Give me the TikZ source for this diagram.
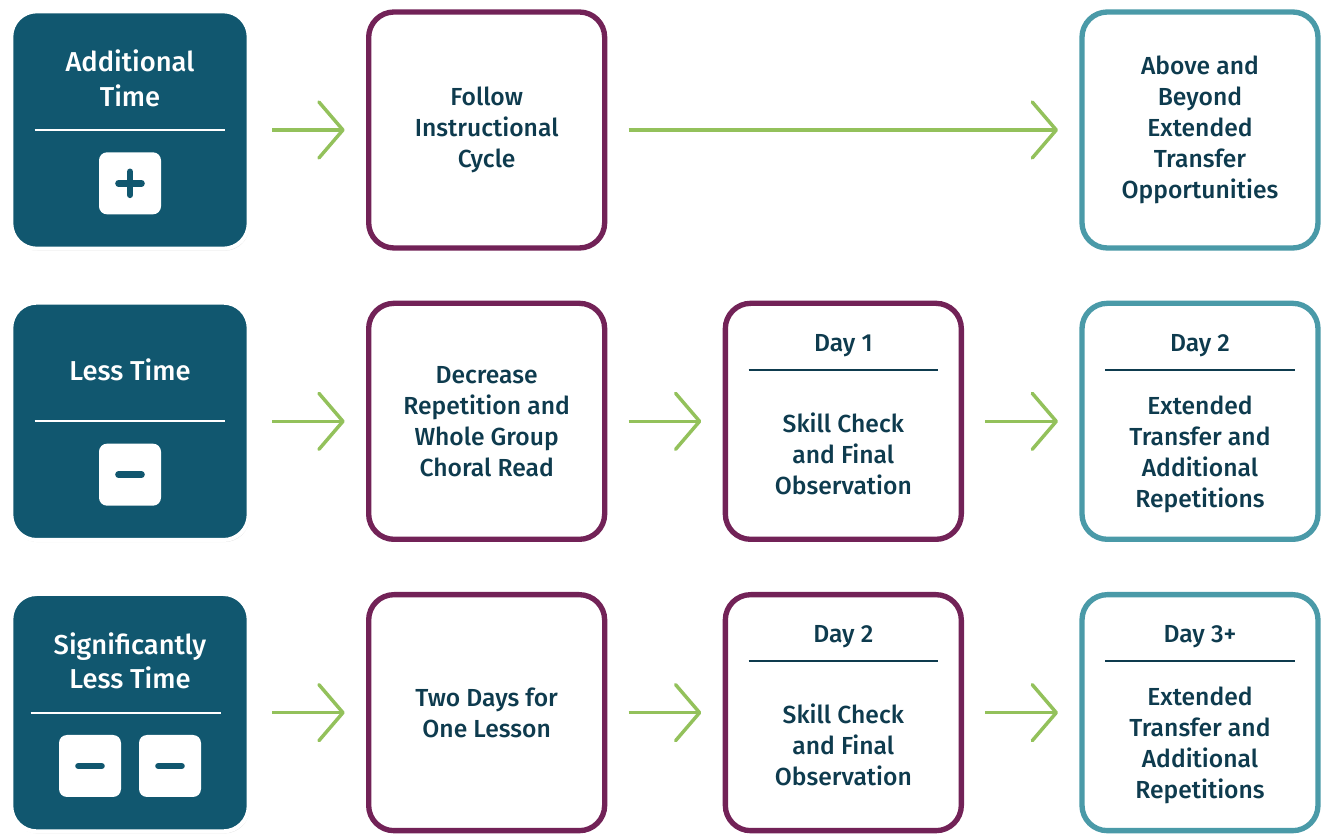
\documentclass[tikz,border=0pt]{standalone}
\usepackage{fontspec}
\setmainfont{Fira Sans}[BoldFont={Fira Sans Medium}]
\usetikzlibrary{positioning,arrows.meta,shadows}

\definecolor{deepteal}{HTML}{11576F}
\definecolor{plum}{HTML}{722257}
\definecolor{seablue}{HTML}{4A9AA8}
\definecolor{navy}{HTML}{0E3B4E}
\definecolor{leaf}{HTML}{93C15B}

\tikzstyle{timebox} = [rectangle, draw=white, line width=3pt, fill=deepteal,
  rounded corners=19pt, minimum width=178pt, minimum height=178pt,
  drop shadow={opacity=0.22, shadow xshift=0.8pt, shadow yshift=-1.6pt}]
\tikzstyle{stepbox} = [rectangle, draw=plum, line width=4pt, fill=white,
  rounded corners=19pt, minimum width=177pt, minimum height=177pt,
  align=center, text=navy, font=\bfseries\fontsize{18.5}{23.25}\selectfont,
  drop shadow={opacity=0.18, shadow xshift=0.8pt, shadow yshift=-1.6pt}]
\tikzstyle{goalbox} = [stepbox, draw=seablue]
\tikzstyle{title} = [align=center, text=white, font=\bfseries\fontsize{20.5}{26}\selectfont]
\tikzstyle{body} = [align=center, text=navy, font=\bfseries\fontsize{18.5}{23.25}\selectfont]
\tikzstyle{icon} = [rectangle, fill=white, rounded corners=6pt, minimum size=46.5pt, inner sep=0pt]
\tikzstyle{bar} = [draw=deepteal, line width=4.8pt, line cap=round]
\tikzstyle{rule} = [draw, line width=1.4pt]
\tikzstyle{line} = [draw=leaf, line width=2.6pt, shorten <=16pt, shorten >=16pt,
  -{Straight Barb[length=18pt, width=42pt, round]}]

\begin{document}
\begin{tikzpicture}[x=0.75pt, y=0.75pt, node distance=86.5pt]
\useasboundingbox (0,0) rectangle (1322,836);

% ==========================================
% ROW 1: Additional time
% ==========================================
\node[timebox] (add) at (130,706) {};
\node[stepbox] (follow) [right=of add] {Follow\\Instructional\\Cycle};
\node[goalbox] (beyond) [right=354pt of follow] {Above and\\Beyond\\Extended\\Transfer\\Opportunities};

\node[title] (addt) at ([yshift=39pt]add.center) {Additional\\Time};
\draw[rule, white] ([xshift=19pt]add.west) -- ([xshift=-19pt]add.east);
\node[icon] (plus) at ([yshift=-40pt]add.center) {};
\draw[bar] ([xshift=-8.7pt]plus.center) -- ([xshift=8.7pt]plus.center);
\draw[bar] ([yshift=-8.7pt]plus.center) -- ([yshift=8.7pt]plus.center);

% ==========================================
% ROW 2: Less time
% ==========================================
\node[timebox] (less) [below=37.5pt of add] {};
\node[stepbox] (decr) [right=of less] {Decrease\\Repetition and\\Whole Group\\Choral Read};
\node[stepbox] (dayone) [right=of decr] {};
\node[goalbox] (daytwo) [right=of dayone] {};

\node[title] (lesst) at ([yshift=39pt]less.center) {Less Time};
\draw[rule, white] ([xshift=19pt]less.west) -- ([xshift=-19pt]less.east);
\node[icon] (minus) at ([yshift=-40pt]less.center) {};
\draw[bar] ([xshift=-8.7pt]minus.center) -- ([xshift=8.7pt]minus.center);

\node[body] (dayoneh) at ([yshift=-33.5pt]dayone.north) {Day 1};
\draw[rule, navy] ([xshift=19.5pt,yshift=-52pt]dayone.north west) -- ([xshift=-19.5pt,yshift=-52pt]dayone.north east);
\node[body] (dayoneb) at ([yshift=-24.5pt]dayone.center) {Skill Check\\and Final\\Observation};

\node[body] (daytwoh) at ([yshift=-33.5pt]daytwo.north) {Day 2};
\draw[rule, navy] ([xshift=19.5pt,yshift=-52pt]daytwo.north west) -- ([xshift=-19.5pt,yshift=-52pt]daytwo.north east);
\node[body] (daytwob) at ([yshift=-24.5pt]daytwo.center) {Extended\\Transfer and\\Additional\\Repetitions};

% ==========================================
% ROW 3: Significantly less time
% ==========================================
\node[timebox] (sig) [below=37.5pt of less] {};
\node[stepbox] (twodays) [right=of sig] {Two Days for\\One Lesson};
\node[stepbox] (daytwo3) [right=of twodays] {};
\node[goalbox] (daythree) [right=of daytwo3] {};

\node[title] (sigt) at ([yshift=39pt]sig.center) {Significantly\\Less Time};
\draw[rule, white] ([xshift=16pt]sig.west) -- ([xshift=-22pt]sig.east);
\node[icon] (minusa) at ([xshift=-30pt,yshift=-40pt]sig.center) {};
\node[icon] (minusb) at ([xshift=30pt,yshift=-40pt]sig.center) {};
\foreach \m in {minusa,minusb}
  { \draw[bar] ([xshift=-8.7pt]\m.center) -- ([xshift=8.7pt]\m.center); }

\node[body] (daytwo3h) at ([yshift=-33.5pt]daytwo3.north) {Day 2};
\draw[rule, navy] ([xshift=19.5pt,yshift=-52pt]daytwo3.north west) -- ([xshift=-19.5pt,yshift=-52pt]daytwo3.north east);
\node[body] (daytwo3b) at ([yshift=-24.5pt]daytwo3.center) {Skill Check\\and Final\\Observation};

\node[body] (daythreeh) at ([yshift=-33.5pt]daythree.north) {Day 3+};
\draw[rule, navy] ([xshift=19.5pt,yshift=-52pt]daythree.north west) -- ([xshift=-19.5pt,yshift=-52pt]daythree.north east);
\node[body] (daythreeb) at ([yshift=-24.5pt]daythree.center) {Extended\\Transfer and\\Additional\\Repetitions};

% ==========================================
% Arrows
% ==========================================
\foreach \a/\b in {add/follow, follow/beyond, less/decr, decr/dayone, dayone/daytwo,
                   sig/twodays, twodays/daytwo3, daytwo3/daythree}
  { \draw[line] (\a.east) -- (\b.west); }

\end{tikzpicture}
\end{document}
